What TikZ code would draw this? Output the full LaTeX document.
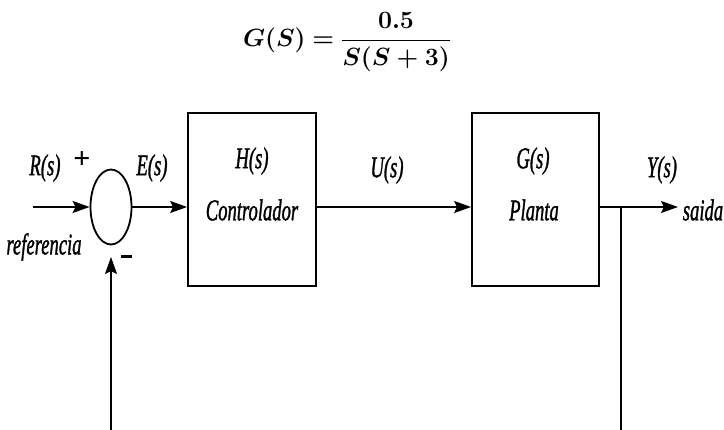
\documentclass[tikz,border=0pt]{standalone}
\usepackage{graphicx}
\usepackage{amsmath,bm}
\usepackage{fontspec}
\setmainfont{Liberation Serif}
\newfontfamily\lblfont[FakeBold=1.5]{Liberation Serif}
\usetikzlibrary{shapes.geometric,arrows.meta}
\newcommand{\cnd}[1]{\scalebox{0.62}[1]{\lblfont\itshape #1}}
\begin{document}
\begin{tikzpicture}[x=1pt,y=-1pt,
  line width=1.8pt,
  blk/.style={draw,rectangle,minimum width=128pt,minimum height=173pt,inner sep=0pt},
  sumnode/.style={draw,ellipse,minimum width=41pt,minimum height=75pt,inner sep=0pt},
  lbl/.style={inner sep=0pt,font=\fontsize{30}{32}\selectfont},
  sgn/.style={inner sep=0pt,font=\fontsize{30}{32}\selectfont\bfseries},
  arr/.style={-{Stealth[length=17pt,width=12pt,inset=3pt]}}]
\useasboundingbox (0,0) rectangle (724,430);
% title
\node[inner sep=0pt,font=\fontsize{24}{28}\selectfont] (title) at (347,42)
  {$\bm{G(S)=\dfrac{0.5}{S(S+3)}}$};
% blocks
\node[sumnode] (sum) at (111,207) {};
\node[blk] (H) at (252,199.5) {};
\node[blk,minimum width=127pt] (G) at (535.5,199.5) {};
% coordinates
\coordinate (in) at (33,207);
\coordinate (out) at (678,207);
\coordinate (br) at (621,207);
\coordinate (brend) at (621,430);
\coordinate (fbstart) at (111,430);
\coordinate (fbtip) at (111,257);
% connectors
\draw[arr] (in) -- (sum.west);
\draw[arr] (sum.east) -- (H.west |- sum.east);
\draw[arr] (H.east |- sum.east) -- (G.west |- sum.east);
\draw[arr] (G.east |- sum.east) -- (out);
\draw (br) -- (brend);
\draw[arr] (fbstart) -- (fbtip);
% labels
\node[lbl] (lR) at (45,168) {\cnd{R(s)}};
\node[sgn] (lplus) at (82,160) {+};
\node[lbl] (lE) at (152,168) {\cnd{E(s)}};
\node[lbl] (lref) at (44,247) {\cnd{referencia}};
\node[sgn] (lminus) at (126,257) {\rule{11pt}{3pt}};
\node[lbl] (lH) at (252,161) {\cnd{H(s)}};
\node[lbl] (lCtl) at (252,210) {\cnd{Controlador}};
\node[lbl] (lU) at (387,170) {\cnd{U(s)}};
\node[lbl] (lGs) at (533,161) {\cnd{G(s)}};
\node[lbl] (lPl) at (534,210) {\cnd{Planta}};
\node[lbl] (lY) at (662,170) {\cnd{Y(s)}};
\node[lbl] (lsaida) at (703,210) {\cnd{saida}};
\end{tikzpicture}
\end{document}
